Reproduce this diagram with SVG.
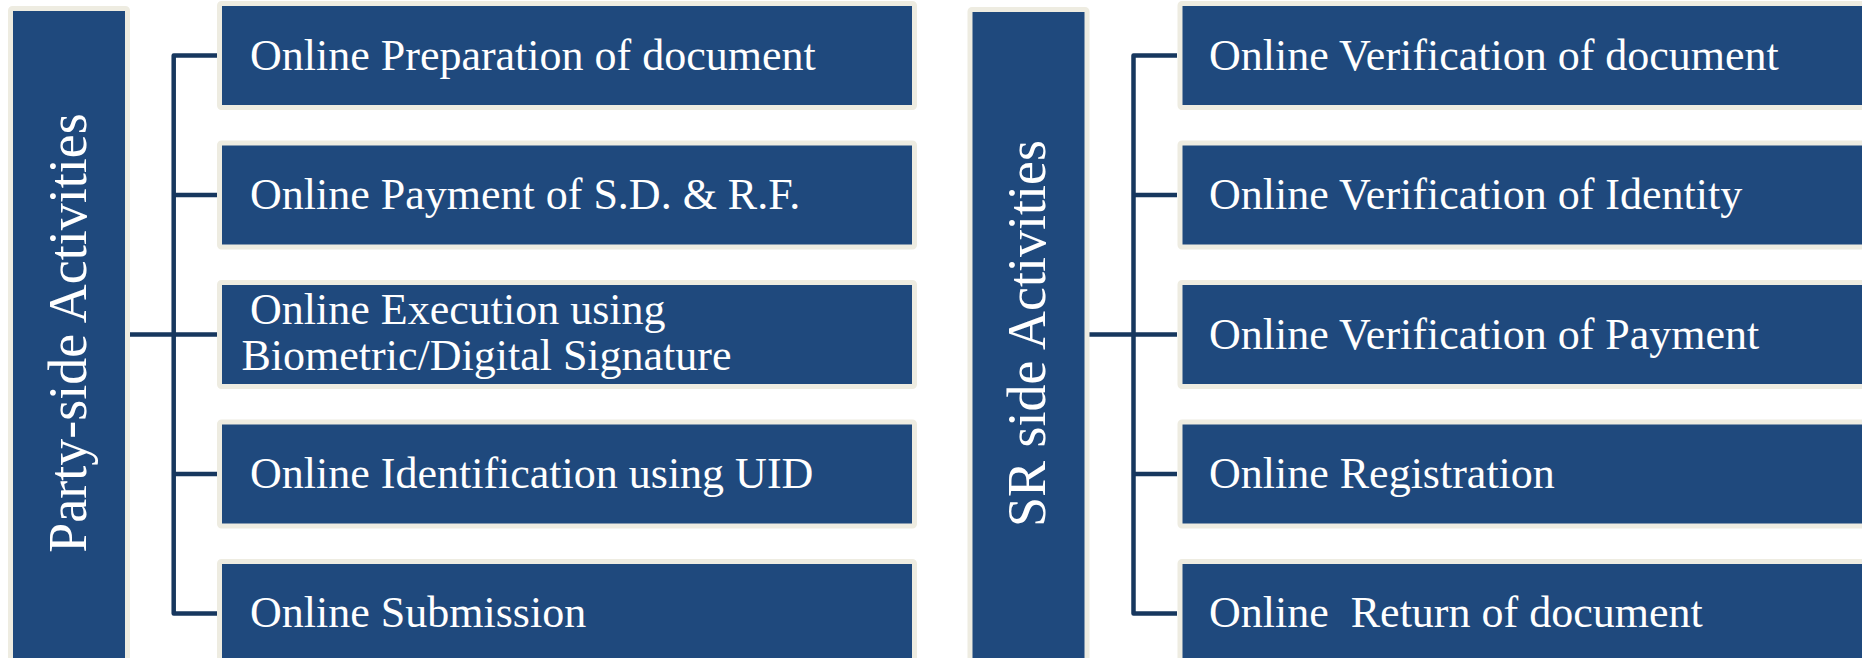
<svg xmlns="http://www.w3.org/2000/svg" width="1862" height="658" viewBox="0 0 1862 658">
<style>
.box{fill:#1F497D;stroke:#EEECE1;stroke-width:5}
.lbl{font-family:"Liberation Serif","Times New Roman",serif;font-size:44px;fill:#FFFFFF;white-space:pre}
.vlbl{font-family:"Liberation Serif","Times New Roman",serif;font-size:54px;fill:#FFFFFF;text-anchor:middle}
.con{fill:none;stroke:#17375E;stroke-width:4.5;stroke-linejoin:round;stroke-linecap:butt}
</style>
<rect width="1862" height="658" fill="#FFFFFF"/>
<g id="connectors">
<path class="con" d="M217,55.5 H173.7 V613.5 H217 M173.7,195 H217 M173.7,334.5 H217 M173.7,474 H217 M129,334.5 H173.7"/>
<path class="con" d="M1177,55.5 H1133.5 V613.5 H1177 M1133.5,195 H1177 M1133.5,334.5 H1177 M1133.5,474 H1177 M1089,334.5 H1133.5"/>
</g>
<g id="party-side">
<rect class="box" x="10.5" y="8.5" width="117" height="660" rx="2"/>
<text class="vlbl" transform="translate(86,333) rotate(-90)">Party-side Activities</text>
</g>
<g id="p1"><rect class="box" x="219.5" y="3.5" width="695" height="104" rx="2"/><text class="lbl" x="250" y="69.5">Online Preparation of document</text></g>
<g id="p2"><rect class="box" x="219.5" y="143" width="695" height="104" rx="2"/><text class="lbl" x="250" y="209">Online Payment of S.D. &amp; R.F.</text></g>
<g id="p3"><rect class="box" x="219.5" y="282.5" width="695" height="104" rx="2"/><text class="lbl" x="250" y="324">Online Execution using</text><text class="lbl" x="241.5" y="370">Biometric/Digital Signature</text></g>
<g id="p4"><rect class="box" x="219.5" y="422" width="695" height="104" rx="2"/><text class="lbl" x="250" y="488">Online Identification using UID</text></g>
<g id="p5"><rect class="box" x="219.5" y="561.5" width="695" height="104" rx="2"/><text class="lbl" x="250" y="627">Online Submission</text></g>
<g id="sr-side">
<rect class="box" x="970" y="9.5" width="117" height="660" rx="2"/>
<text class="vlbl" transform="translate(1045,333.5) rotate(-90)">SR side Activities</text>
</g>
<g id="s1"><rect class="box" x="1180" y="3.5" width="700" height="104" rx="2"/><text class="lbl" x="1209" y="69.5">Online Verification of document</text></g>
<g id="s2"><rect class="box" x="1180" y="143" width="700" height="104" rx="2"/><text class="lbl" x="1209" y="209">Online Verification of Identity</text></g>
<g id="s3"><rect class="box" x="1180" y="282.5" width="700" height="104" rx="2"/><text class="lbl" x="1209" y="348.5">Online Verification of Payment</text></g>
<g id="s4"><rect class="box" x="1180" y="422" width="700" height="104" rx="2"/><text class="lbl" x="1209" y="488">Online Registration</text></g>
<g id="s5"><rect class="box" x="1180" y="561.5" width="700" height="104" rx="2"/><text class="lbl" x="1209" y="627">Online  Return of document</text></g>
</svg>
